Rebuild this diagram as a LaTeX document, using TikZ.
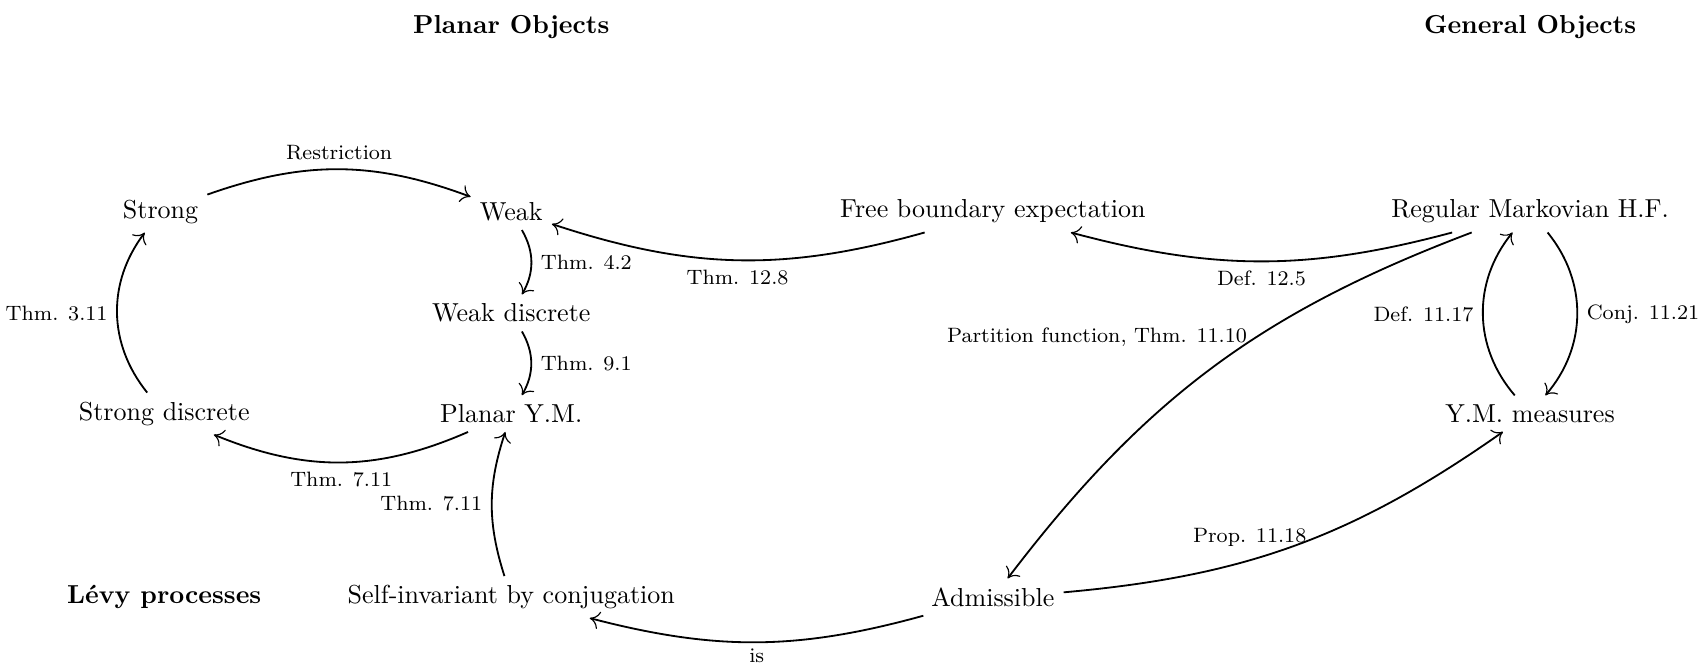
\documentclass[tikz,border=0pt]{standalone}
\usepackage{amsmath}
\usepackage{tikz}
\usetikzlibrary{arrows.meta}

\begin{document}
\begin{tikzpicture}[
  obj/.style={align=center},
  head/.style={font=\bfseries},
  lbl/.style={font=\footnotesize},
  arrow/.style={-{To[length=1.3mm,width=2.4mm,line width=0.45pt]}, line width=0.7pt}
]
\useasboundingbox (0,0) rectangle (22.95,-9.03);
\node[head] (planar) at (6.91,-0.37) {Planar Objects};
\node[head] (general) at (20.68,-0.37) {General Objects};
\node[head] (levy) at (2.22,-8.07) {L\'evy processes};
\node[obj] (strong) at (2.17,-2.86) {Strong};
\node[obj] (weak) at (6.91,-2.86) {Weak};
\node[obj] (free) at (13.42,-2.86) {Free boundary expectation};
\node[obj] (regular) at (20.68,-2.86) {Regular Markovian H.F.};
\node[obj] (weakd) at (6.91,-4.23) {Weak discrete};
\node[obj] (strongd) at (2.22,-5.59) {Strong discrete};
\node[obj] (planarym) at (6.91,-5.59) {Planar Y.M.};
\node[obj] (ymm) at (20.68,-5.59) {Y.M. measures};
\node[obj] (selfinv) at (6.91,-8.07) {Self-invariant by conjugation};
\node[obj] (admiss) at (13.42,-8.07) {Admissible};
\draw[arrow] (strong) to[bend left=20] node[lbl,above]{Restriction} (weak);
\draw[arrow] (weak) to[bend left=30] node[lbl,right]{Thm. 4.2} (weakd);
\draw[arrow] (weakd) to[bend left=30] node[lbl,right]{Thm. 9.1} (planarym);
\draw[arrow] (planarym) to[bend left=23] node[lbl,below]{Thm. 7.11} (strongd);
\draw[arrow] (strongd) to[bend left=38] node[lbl,left]{Thm. 3.11} (strong);
\draw[arrow] (selfinv) to[bend left=18] node[lbl,left]{Thm. 7.11} (planarym);
\draw[arrow] (admiss) to[bend left=15] node[lbl,below,inner sep=2pt]{is} (selfinv);
\draw[arrow] (free) to[bend left=17] node[lbl,below]{Thm. 12.8} (weak);
\draw[arrow] (regular) to[bend left=15] node[lbl,below]{Def. 12.5} (free);
\draw[arrow] (regular) to[bend right=16] node[lbl,pos=0.4,left]{Partition function, Thm. 11.10} (admiss);
\draw[arrow] (admiss) to[bend right=15] node[lbl,pos=0.55,left]{Prop. 11.18} (ymm);
\draw[arrow] (regular) to[bend left=40] node[lbl,right]{Conj. 11.21} (ymm);
\draw[arrow] (ymm) to[bend left=40] node[lbl,left]{Def. 11.17} (regular);
\end{tikzpicture}
\end{document}
